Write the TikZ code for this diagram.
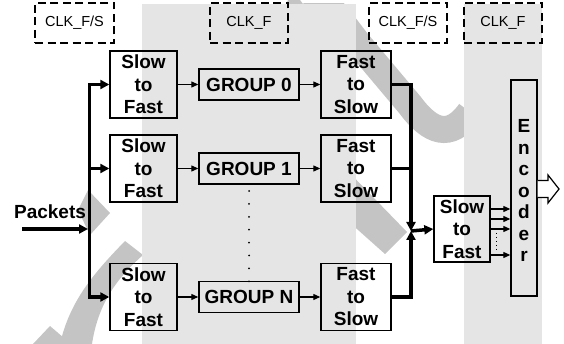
\documentclass[tikz,border=0pt]{standalone}
\usepackage{fontspec}
\setmainfont{Liberation Sans}
\usetikzlibrary{arrows.meta}
\definecolor{bandgray}{HTML}{E5E5E5}
\definecolor{markgray}{HTML}{C4C4C4}
\begin{document}
\begin{tikzpicture}[x=1pt,y=-1pt,
  bigfont/.style={font=\fontsize{19}{22.5}\selectfont\bfseries},
  box/.style={draw, line width=1.4pt, inner sep=0pt, align=center, bigfont},
  sfbox/.style={box, minimum width=67pt, minimum height=67pt},
  fsbox/.style={box, minimum width=70pt, minimum height=67pt},
  grpbox/.style={box, minimum width=100pt, minimum height=31pt},
  clkbox/.style={draw, dash pattern=on 8pt off 4.5pt, line width=1.4pt, minimum height=40pt, inner sep=0pt, font=\fontsize{14.5}{17}\selectfont},
  thinarrow/.style={line width=1.2pt, -{Triangle[length=7pt,width=6pt]}},
  thickline/.style={line width=3.5pt},
  thickarrow/.style={thickline, -{Triangle[length=9pt,width=9pt]}}]
\useasboundingbox (0,0) rectangle (564,344);
% watermark
\fill[markgray] (340,163) -- (407,232) -- (385,254) -- (330,205) -- cycle;
\fill[markgray] (88,190) -- (110,213) -- (90,235) -- (78,210) -- cycle;
\fill[markgray] (125,241) .. controls (95,272) and (70,300) .. (60,344) -- (92,344) .. controls (98,305) and (115,280) .. (143,255) -- cycle;
\fill[markgray] (33,344) -- (50,326) -- (64,338) -- (60,344) -- cycle;
\fill[markgray] (288,0) -- (300,0) -- (303,4) -- (286,4) -- cycle;
\begin{scope}
\clip (0,4) rectangle (564,344);
\draw[markgray, line width=27pt] (300,-14) .. controls (325,0) .. (357,42) -- (410,105) .. controls (430,132) and (450,140) .. (470,112);
\end{scope}
% bands
\fill[bandgray] (142,4) rectangle (356,344);
\fill[bandgray] (464,4) rectangle (542,344);
% clock labels
\node[clkbox, minimum width=79pt] (c1) at (74.5,23) {CLK\_F/S};
\node[clkbox, minimum width=78pt] (c2) at (249,23) {CLK\_F};
\node[clkbox, minimum width=78pt] (c3) at (408,23) {CLK\_F/S};
\node[clkbox, minimum width=78pt] (c4) at (503,23) {CLK\_F};
% rows
\node[sfbox] (s0) at (143.5,84.5) {Slow\\to\\Fast};
\node[sfbox] (s1) at (143.5,168.5) {Slow\\to\\Fast};
\node[sfbox] (sN) at (143.5,297) {Slow\\to\\Fast};
\node[grpbox] (g0) at (249,84.5) {GROUP 0};
\node[grpbox] (g1) at (249,168.5) {GROUP 1};
\node[grpbox] (gN) at (249,297) {GROUP N};
\node[fsbox] (f0) at (356,84.5) {Fast\\to\\Slow};
\node[fsbox] (f1) at (356,168.5) {Fast\\to\\Slow};
\node[fsbox] (fN) at (356,297) {Fast\\to\\Slow};
\foreach \r in {0,1,N}{
  \draw[thinarrow] (s\r.east) -- (g\r.west);
  \draw[thinarrow] (g\r.east) -- (f\r.west);
}
% vertical dots
\foreach \i in {0,...,7} \fill (249,191+\i*12.9) circle (1pt);
% input
\node[bigfont, anchor=base] (pk) at (50,219) {Packets};
\coordinate (pin) at (22,229);
\coordinate (lb) at (89.5,229);
\draw[thickarrow] (pin) -- ([xshift=-1.5pt]lb);
\draw[thickline, {Triangle[length=9pt,width=9pt]}-{Triangle[length=9pt,width=9pt]}] (s0.west) -| (lb) |- (sN.west);
\draw[thickarrow] (lb |- s1.west) -- (s1.west);
% output side
\coordinate (rb) at (411,231);
\node[box, minimum width=56pt, minimum height=66pt] (s2) at (462,229) {Slow\\to\\Fast};
\draw[thickarrow] (f0.east) -| (rb);
\draw[thickarrow] (fN.east) -| (rb);
\draw[thickline] (f1.east) -- (f1.east -| rb);
\draw[thickarrow] (rb) -- (s2.west);
% encoder
\node[draw, line width=1.4pt, minimum width=26pt, minimum height=216pt, inner sep=0pt] (enc) at (524,188) {};
\node[align=center, font=\fontsize{19}{21.5}\selectfont\bfseries, inner sep=0pt] (enctext) at (524,190.5) {E\\n\\c\\o\\d\\e\\r};
\foreach \y in {209,219,229,255}
  \draw[thinarrow] (s2.east |- 0,\y) -- (enc.west |- 0,\y);
\draw[line width=1pt, dash pattern=on 1pt off 3pt] (496,233) -- (496,252);
% hollow output arrow
\draw[line width=1.2pt, fill=white, line join=miter] (enc.east |- 0,180.5) -- (548,180.5) -- (548,175) -- (559,189) -- (548,203) -- (548,197.5) -- (enc.east |- 0,197.5);
\end{tikzpicture}
\end{document}
